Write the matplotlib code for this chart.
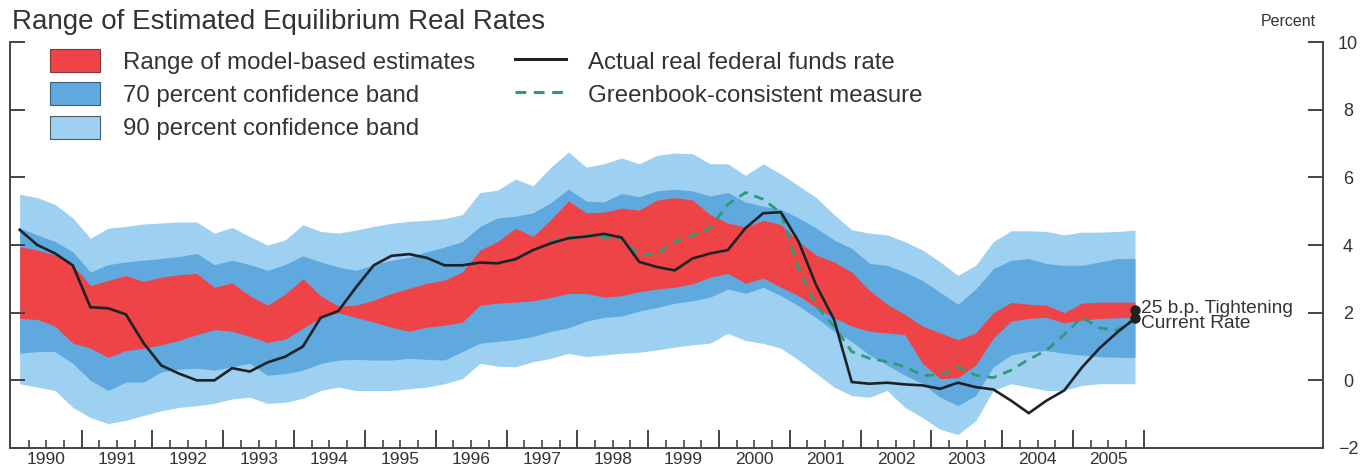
import matplotlib
matplotlib.use("Agg")
import matplotlib.pyplot as plt
import numpy as np
from matplotlib.lines import Line2D
from matplotlib.patches import Patch

plt.rcParams["font.family"] = ["Liberation Sans", "DejaVu Sans"]

# quarterly observations, 1990:Q1 .. 2005:Q4 (plotted at mid-quarter)
quarters = 1990.125 + 0.25 * np.arange(64)

band90_hi = [5.5, 5.4, 5.2, 4.8, 4.2, 4.5, 4.55, 4.62, 4.65, 4.68, 4.68, 4.35,
             4.52, 4.25, 4.0, 4.15, 4.6, 4.4, 4.35, 4.44, 4.55, 4.64, 4.7, 4.73,
             4.78, 4.9, 5.55, 5.62, 5.95, 5.75, 6.3, 6.75, 6.3, 6.4, 6.57, 6.4,
             6.65, 6.72, 6.7, 6.4, 6.4, 6.06, 6.4, 6.1, 5.75, 5.4, 4.9, 4.45,
             4.35, 4.3, 4.1, 3.85, 3.5, 3.1, 3.4, 4.1, 4.42, 4.42, 4.4, 4.3,
             4.38, 4.38, 4.4, 4.44]
band70_hi = [4.5, 4.3, 4.1, 3.8, 3.2, 3.42, 3.5, 3.55, 3.6, 3.66, 3.75, 3.42,
             3.55, 3.42, 3.25, 3.42, 3.68, 3.5, 3.35, 3.25, 3.42, 3.55, 3.64, 3.8,
             3.94, 4.1, 4.55, 4.8, 4.85, 4.95, 5.25, 5.65, 5.3, 5.27, 5.52, 5.43,
             5.6, 5.65, 5.6, 5.45, 5.55, 5.27, 5.15, 5.05, 4.8, 4.5, 4.15, 3.9,
             3.46, 3.4, 3.2, 2.95, 2.6, 2.25, 2.7, 3.3, 3.55, 3.6, 3.45, 3.4,
             3.4, 3.5, 3.6, 3.6]
model_hi = [3.95, 3.85, 3.7, 3.4, 2.8, 2.95, 3.1, 2.92, 3.05, 3.12, 3.16, 2.75,
            2.88, 2.5, 2.22, 2.55, 3.0, 2.5, 2.2, 2.22, 2.37, 2.57, 2.72, 2.87,
            2.96, 3.2, 3.85, 4.1, 4.5, 4.25, 4.75, 5.3, 4.95, 4.97, 5.09, 5.03,
            5.33, 5.4, 5.33, 4.9, 4.65, 4.53, 4.73, 4.6, 4.1, 3.7, 3.5, 3.2,
            2.66, 2.25, 1.95, 1.6, 1.4, 1.2, 1.4, 2.0, 2.3, 2.25, 2.22, 2.0,
            2.28, 2.31, 2.31, 2.31]
model_lo = [1.83, 1.8, 1.6, 1.1, 0.95, 0.68, 0.88, 0.95, 1.05, 1.18, 1.35, 1.5,
            1.45, 1.3, 1.12, 1.22, 1.54, 1.85, 2.0, 1.86, 1.72, 1.57, 1.45, 1.57,
            1.63, 1.72, 2.22, 2.28, 2.31, 2.35, 2.45, 2.57, 2.57, 2.46, 2.5, 2.62,
            2.7, 2.75, 2.85, 3.05, 3.16, 2.87, 3.02, 2.75, 2.5, 2.15, 1.85, 1.6,
            1.45, 1.4, 1.35, 0.5, 0.05, 0.08, 0.45, 1.25, 1.75, 1.83, 1.86, 1.7,
            1.78, 1.83, 1.85, 1.86]
band70_lo = [0.8, 0.85, 0.85, 0.5, 0.0, -0.3, -0.05, -0.05, 0.25, 0.33, 0.36, 0.3,
             0.4, 0.5, 0.15, 0.2, 0.3, 0.5, 0.6, 0.62, 0.6, 0.6, 0.65, 0.62,
             0.6, 0.85, 1.1, 1.15, 1.2, 1.3, 1.45, 1.55, 1.75, 1.86, 1.9, 2.05,
             2.15, 2.28, 2.35, 2.46, 2.7, 2.57, 2.75, 2.5, 2.2, 1.85, 1.45, 1.15,
             0.75, 0.45, 0.15, -0.1, -0.5, -0.75, -0.45, 0.4, 0.75, 0.85, 0.88, 0.8,
             0.75, 0.7, 0.68, 0.68]
band90_lo = [-0.1, -0.2, -0.3, -0.8, -1.1, -1.28, -1.18, -1.04, -0.9, -0.8, -0.75, -0.68,
             -0.55, -0.5, -0.68, -0.65, -0.53, -0.3, -0.2, -0.3, -0.3, -0.3, -0.25, -0.2,
             -0.1, 0.05, 0.5, 0.42, 0.4, 0.55, 0.65, 0.8, 0.7, 0.75, 0.8, 0.83,
             0.9, 0.98, 1.05, 1.1, 1.39, 1.18, 1.09, 0.95, 0.6, 0.2, -0.2, -0.45,
             -0.5, -0.3, -0.8, -1.1, -1.45, -1.6, -1.2, -0.3, -0.1, -0.2, -0.3, -0.3,
             -0.15, -0.1, -0.1, -0.1]
actual_rate = [4.45, 4.0, 3.75, 3.4, 2.16, 2.13, 1.95, 1.1, 0.44, 0.2, 0.0, 0.0,
               0.36, 0.26, 0.53, 0.7, 1.0, 1.85, 2.05, 2.75, 3.4, 3.68, 3.73, 3.62,
               3.4, 3.4, 3.48, 3.46, 3.58, 3.85, 4.05, 4.2, 4.25, 4.33, 4.22, 3.5,
               3.35, 3.25, 3.6, 3.75, 3.85, 4.5, 4.94, 4.97, 4.1, 2.8, 1.8, -0.05,
               -0.1, -0.07, -0.12, -0.15, -0.25, -0.07, -0.2, -0.27, -0.6, -0.97, -0.6, -0.3,
               0.38, 0.95, 1.42, 1.83]
# Greenbook-consistent measure is available from 1997:Q3
greenbook_start = 30
greenbook = [4.1, 4.25, 4.28, 4.23, 4.2, 3.7, 3.75, 4.1, 4.28, 4.5, 5.2, 5.55,
             5.35, 4.95, 3.3, 2.2, 1.6, 0.85, 0.65, 0.55, 0.4, 0.15, 0.15, 0.4,
             0.15, 0.08, 0.3, 0.62, 0.89, 1.35, 1.86, 1.55, 1.48, 1.83]

tightening = 2.07      # current rate + 25 b.p.
current_rate = 1.83

years = np.arange(1990, 2006)
year_labels = [str(y) for y in years]

LIGHT = "#9dd0f1"
MID = "#5fa9df"
RED = "#ee4347"
INK = "#1e2227"
GREEN = "#2f9a77"
TEXT = "#333333"

fig = plt.figure(figsize=(13.64, 4.70), dpi=100)
ax = fig.add_axes([10.1 / 1364, 1 - 448 / 470, (1323 - 10.1) / 1364, (448 - 42) / 470])

ax.fill_between(quarters, band90_lo, band90_hi, color=LIGHT, lw=0)
ax.fill_between(quarters, band70_lo, band70_hi, color=MID, lw=0)
ax.fill_between(quarters, model_lo, model_hi, color=RED, lw=0)
ax.plot(quarters[greenbook_start:], greenbook, color=GREEN, lw=2.0,
        dashes=(3.5, 2.5))
ax.plot(quarters, actual_rate, color=INK, lw=1.9, solid_joinstyle="miter")

t_end = quarters[-1]
ax.plot([t_end, t_end], [tightening, current_rate], "o", color=INK, ms=6.5)
ax.annotate("25 b.p. Tightening", (t_end, tightening), xytext=(4, 1),
            textcoords="offset points", va="center", fontsize=13.8, color=TEXT)
ax.annotate("Current Rate", (t_end, current_rate), xytext=(4, -4),
            textcoords="offset points", va="center", fontsize=13.8, color=TEXT)

ax.set_xlim(1989.99, 2008.53)
ax.set_ylim(-2, 10)

ax.spines["top"].set_visible(False)
for side in ("left", "right", "bottom"):
    ax.spines[side].set_color("#444444")
    ax.spines[side].set_linewidth(1.4)

ax.set_yticks(np.arange(-2, 11, 2))
ax.tick_params(axis="y", which="both", direction="in", length=11, width=1.4,
               color="#444444", left=True, right=True, labelleft=False,
               labelright=True, labelsize=13, labelcolor=TEXT, pad=18)
for lab in ax.get_yticklabels():
    lab.set_horizontalalignment("center")

ax.set_xticks(years[1:].tolist() + [2006])
ax.set_xticks(np.arange(1990.25, 2006, 0.25), minor=True)
ax.set_xticklabels([])
ax.tick_params(axis="x", which="major", direction="in", length=13, width=1.4,
               color="#444444")
ax.tick_params(axis="x", which="minor", direction="in", length=6, width=1.2,
               color="#444444")
for y, lab in zip(years, year_labels):
    ax.text(y + 0.5, -0.047, lab, transform=ax.get_xaxis_transform(),
            ha="center", va="bottom", fontsize=12.5, color=TEXT)

fig.text(12 / 1364, 1 - 22 / 470, "Range of Estimated Equilibrium Real Rates",
         fontsize=20, color=TEXT, va="center", ha="left")
fig.text(1288 / 1364, 1 - 21 / 470, "Percent", fontsize=11.5, color=TEXT,
         va="center", ha="center")

handles = [
    Patch(facecolor=RED, edgecolor="#7a3a3a", lw=0.8),
    Patch(facecolor=MID, edgecolor="#3d5f7a", lw=0.8),
    Patch(facecolor=LIGHT, edgecolor="#4a5a66", lw=0.8),
    Line2D([], [], color=INK, lw=2.2),
    Line2D([], [], color=GREEN, lw=2.2, dashes=(3.5, 2.5)),
]
labels = ["Range of model-based estimates", "70 percent confidence band",
          "90 percent confidence band", "Actual real federal funds rate",
          "Greenbook-consistent measure"]
fs = 17.3
ax.legend(handles, labels, ncol=2, loc="upper left", frameon=False,
          bbox_to_anchor=(50 / 1364, 1 - 49 / 470), bbox_transform=fig.transFigure,
          fontsize=fs, labelcolor=TEXT, borderpad=0, borderaxespad=0,
          handlelength=2.1, handleheight=1.1, handletextpad=0.95,
          labelspacing=0.36, columnspacing=1.65)

fig.savefig("out.png", dpi=100)
